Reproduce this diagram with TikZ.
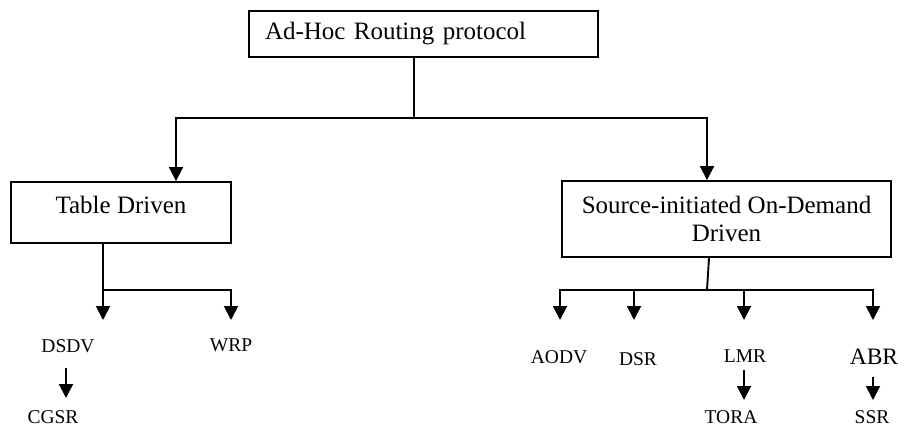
\documentclass[tikz,border=0pt]{standalone}
\usepackage{fontspec}
\setmainfont{Liberation Serif}
\usetikzlibrary{arrows.meta,calc}
\begin{document}
\begin{tikzpicture}[x=1pt,y=-1pt,
  line width=1.9pt,
  box/.style={draw, inner sep=0pt, font=\fontsize{25}{28.5}\selectfont},
  leaf/.style={inner sep=0pt, anchor=base, font=\fontsize{19.5}{23}\selectfont},
  bigleaf/.style={leaf, font=\fontsize{23.5}{27}\selectfont},
  arr/.style={-{Triangle[width=14pt,length=14pt]}}]
\useasboundingbox (0,0) rectangle (904,426);
% boxes
\node[box, minimum width=349pt, minimum height=46pt, text width=317pt, align=left, inner xsep=16pt] (top) at (423.5,34) {Ad-Hoc Routing protocol};
\node[box, minimum width=220pt, minimum height=61pt] (tab) at (121,212.5) {\raisebox{8pt}[\height][\depth]{Table Driven}};
\node[box, minimum width=329pt, minimum height=76pt, align=center] (src) at (726.5,219) {Source-initiated On-Demand\\Driven};
% leaves
\node[leaf] (dsdv) at (68,352) {DSDV};
\node[leaf] (wrp) at (231,351) {WRP};
\node[leaf] (cgsr) at (53,423) {CGSR};
\node[leaf] (aodv) at (559,363) {AODV};
\node[leaf] (dsr) at (638,365) {DSR};
\node[leaf] (lmr) at (745,362) {LMR};
\node[bigleaf] (abr) at (874,364) {ABR};
\node[leaf] (tora) at (731,423) {TORA};
\node[leaf] (ssr) at (872,423) {SSR};
% top level connectors
\coordinate (j1) at (414,118);
\coordinate (hl) at (176,118);
\coordinate (hr) at (707,118);
\draw (top.south -| j1) -- (j1);
\draw[arr] (j1) -- (hl) -- (hl |- tab.north);
\draw[arr] (j1) -- (hr) -- (hr |- src.north);
% table driven branch
\coordinate (j3) at (103,290);
\draw (tab.south -| j3) -- (j3);
\draw[arr] (j3) -- ($(dsdv.base)+(35,-32)$);
\draw[arr] (j3) -| ($(wrp.base)+(0,-31)$);
% on-demand branch
\coordinate (j4) at (707,290);
\draw ([xshift=-17.5pt]src.south) -- (j4);
\draw[arr] (j4) -| ($(aodv.base)+(1,-43)$);
\draw[arr] (j4) -| ($(dsr.base)+(-4,-45)$);
\draw[arr] (j4) -| ($(lmr.base)+(-1,-42)$);
\draw[arr] (j4) -| ($(abr.base)+(-1,-44)$);
% second level
\draw[arr] ($(dsdv.base)+(-2,16)$) -- ($(cgsr.base)+(13,-25)$);
\draw[arr] ($(lmr.base)+(-1,8)$) -- ($(tora.base)+(13,-23)$);
\draw[arr] ($(abr.base)+(-1,13)$) -- ($(ssr.base)+(1,-23)$);
\end{tikzpicture}
\end{document}
